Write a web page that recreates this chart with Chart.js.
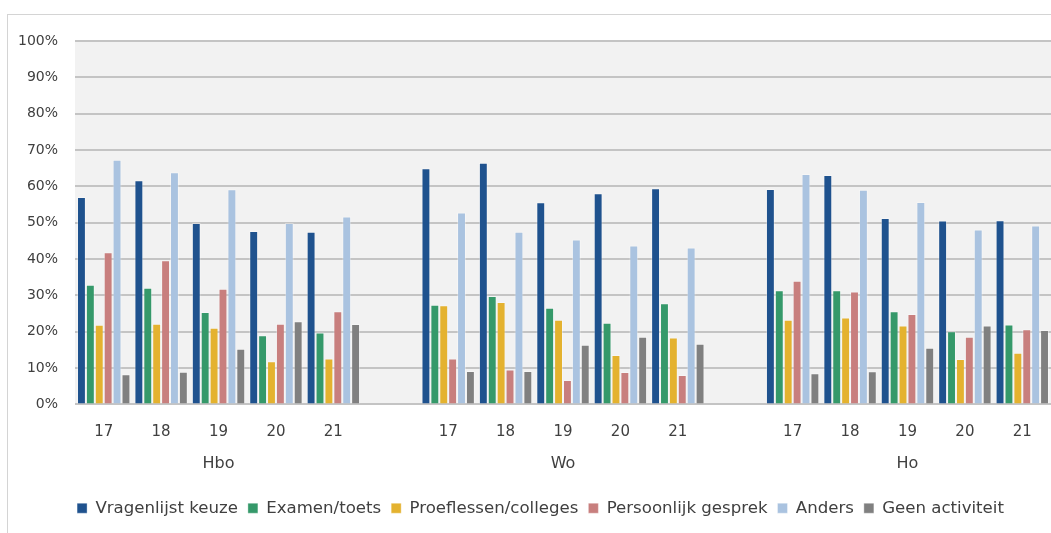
<!DOCTYPE html>
<html>
<head>
<meta charset="utf-8">
<script src="https://cdn.jsdelivr.net/npm/chart.js@4.4.1/dist/chart.umd.min.js"></script>
<style>
  html, body { margin: 0; padding: 0; background: #ffffff; overflow: hidden; }
  #frame { position: absolute; left: 7px; top: 14px; width: 1200px; height: 700px; border: 1px solid #d4d4d4; box-sizing: border-box; }
  #wrap { position: absolute; left: 0; top: 0; width: 1051px; height: 533px; }
</style>
</head>
<body>
<div id="frame"></div>
<div id="wrap"><canvas id="c" width="1051" height="533"></canvas></div>
<script>
// Categories (blank entries are the gaps between groups)
const yearLabels  = ['17','18','19','20','21','', '17','18','19','20','21','', '17','18','19','20','21'];
const groupLabels = ['','','Hbo','','','', '','','Wo','','','', '','','Ho','',''];
const yTicks = [0,10,20,30,40,50,60,70,80,90,100];

// Series values (%), null in gap positions
const vragenlijst = [57.1,61.7,49.9,47.7,47.5,null, 65.0,66.5,55.6,58.1,59.5,null, 59.3,63.1,51.3,50.6,50.7];
const examen      = [32.9,32.1,25.4,19.0,19.8,null, 27.4,29.8,26.6,22.5,27.8,null, 31.4,31.4,25.6,20.1,22.0];
const proeflessen = [21.9,22.2,21.1,11.9,12.6,null, 27.3,28.2,23.3,13.6,18.4,null, 23.3,23.9,21.7,12.5,14.2];
const persoonlijk = [41.9,39.7,31.8,22.2,25.6,null, 12.6, 9.6, 6.7, 8.9, 8.1,null, 34.0,31.1,24.9,18.6,20.7];
const anders      = [67.3,63.9,59.2,49.9,51.7,null, 52.8,47.5,45.4,43.7,43.2,null, 63.4,59.1,55.7,48.1,49.2];
const geen        = [ 8.3, 9.0,15.3,22.9,22.1,null,  9.2, 9.2,16.4,18.6,16.7,null,  8.6, 9.1,15.6,21.7,20.5];

const seriesNames = ['Vragenlijst keuze','Examen/toets','Proeflessen/colleges','Persoonlijk gesprek','Anders','Geen activiteit'];
const seriesData  = [vragenlijst, examen, proeflessen, persoonlijk, anders, geen];
const seriesColors = ['#1f528e','#35996a','#e4b22f','#c87f7e','#aac3e0','#808080'];

const FONT = "'DejaVu Sans', sans-serif";
const TXT = '#404040';

const plotBg = {
  id: 'plotBg',
  afterLayout(chart) {
    if (chart.legend) chart.legend.left = 30;
  },
  beforeDraw(chart) {
    const {ctx, chartArea: a} = chart;
    ctx.save();
    ctx.fillStyle = '#f2f2f2';
    ctx.fillRect(a.left, a.top, a.right - a.left, a.bottom - a.top);
    ctx.restore();
  }
};

new Chart(document.getElementById('c'), {
  type: 'bar',
  data: {
    labels: yearLabels,
    datasets: seriesNames.map((n, i) => ({
      label: n,
      data: seriesData[i],
      backgroundColor: seriesColors[i],
      borderColor: 'rgba(255,255,255,0.35)',
      borderWidth: 1,
      categoryPercentage: 0.93,
      barPercentage: 1.0,
      xAxisID: 'x',
      yAxisID: 'y'
    }))
  },
  options: {
    responsive: false,
    animation: false,
    devicePixelRatio: 1,
    layout: { padding: { left: 0, top: 41, right: 0, bottom: 6.5 } },
    plugins: {
      tooltip: { enabled: false },
      legend: {
        position: 'bottom',
        labels: {
          boxWidth: 10, boxHeight: 10, padding: 10,
          color: TXT,
          font: { family: FONT, size: 16.6 }
        }
      }
    },
    scales: {
      x: {
        position: 'bottom',
        grid: { display: false, drawTicks: false },
        border: { display: false },
        ticks: { color: TXT, font: { family: FONT, size: 15 }, padding: 18.5, autoSkip: false, maxRotation: 0 },
        afterFit(s) { s.height = 42; }
      },
      x2: {
        type: 'category',
        position: 'bottom',
        labels: groupLabels,
        grid: { display: false, drawTicks: false },
        border: { display: false },
        ticks: { color: TXT, font: { family: FONT, size: 16 }, padding: 7.5, autoSkip: false, maxRotation: 0 },
        afterFit(s) { s.height = 43.5; }
      },
      y: {
        min: 0, max: 100,
        afterBuildTicks(s) { s.ticks = yTicks.map(v => ({ value: v })); },
        grid: { color: '#c4c4c4', lineWidth: 2, drawTicks: false },
        border: { display: false },
        ticks: { color: TXT, font: { family: FONT, size: 14 }, padding: 17, callback: v => v + '%' },
        afterFit(s) { s.width = 75; }
      }
    }
  },
  plugins: [plotBg]
});
</script>
</body>
</html>
